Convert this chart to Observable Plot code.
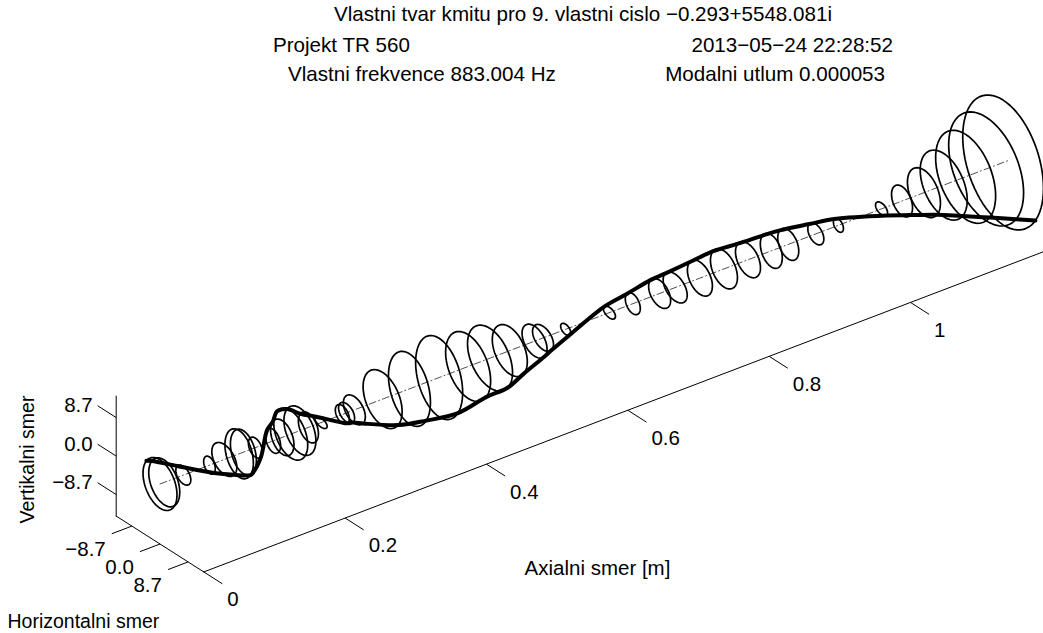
<!DOCTYPE html>
<html><head><meta charset="utf-8">
<script src="https://cdn.jsdelivr.net/npm/d3@7"></script>
<script src="https://cdn.jsdelivr.net/npm/@observablehq/plot@0.6"></script>
<style>
html,body{margin:0;padding:0;background:#fff;overflow:hidden;}
#wrap{position:relative;width:1043px;height:633px;font-family:"Liberation Sans",Arial,sans-serif;}
.t{position:absolute;font-size:20.6px;color:#000;white-space:nowrap;line-height:20px;}
#chart{position:absolute;left:0;top:0;}
</style></head><body>
<div id="wrap">
  <div id="chart"></div>
  <div class="t" style="left:0;width:1166px;text-align:center;top:4px">Vlastni tvar kmitu pro 9. vlastni cislo −0.293+5548.081i</div>
  <div class="t" style="left:273px;top:35px">Projekt TR 560</div>
  <div class="t" style="right:150px;top:35px">2013−05−24 22:28:52</div>
  <div class="t" style="left:288px;top:64px">Vlastni frekvence 883.004 Hz</div>
  <div class="t" style="right:158px;top:64px">Modalni utlum 0.000053</div>
</div>
<script>
// ---- data ----
const nodeAxial = [0.000,0.006,0.033,0.070,0.091,0.112,0.118,0.135,0.160,0.173,0.185,0.198,0.210,0.228,0.258,0.264,0.275,0.315,0.353,0.395,0.436,0.467,0.495,0.530,0.542,0.574,0.636,0.669,0.707,0.729,0.764,0.798,0.832,0.865,0.889,0.928,0.960,1.021,1.050,1.081,1.109,1.140,1.169,1.193];
const horizAmp = [-5.26,-4.80,-2.32,1.80,3.87,4.40,4.02,2.17,-2.32,-3.62,-5.26,-4.95,-3.10,-1.86,2.17,2.48,3.40,6.04,6.50,7.28,6.97,6.97,5.42,3.87,3.25,1.55,-1.86,-2.32,-3.40,-3.72,-3.87,-4.18,-3.87,-3.40,-3.25,-2.48,-1.55,1.86,3.25,5.11,7.28,9.29,11.6,12.5];
const vertAmp = [-5.47,-5.06,-1.99,1.85,3.39,5.27,4.85,2.14,-2.60,-3.78,-5.34,-5.10,-3.20,-1.04,2.00,2.07,3.00,6.04,7.92,8.87,7.21,6.72,5.31,3.39,2.65,1.15,-1.19,-2.24,-3.00,-3.04,-3.65,-4.08,-3.65,-3.62,-3.28,-2.20,-1.41,1.32,3.28,5.12,7.15,9.58,11.7,14.1];
const axialTicks = [0, 0.2, 0.4, 0.6, 0.8, 1];
const axialTickLabels = ["0", "0.2", "0.4", "0.6", "0.8", "1"];
const ampTicks = [-8.7, 0, 8.7];
const ampTickLabels = ["−8.7", "0.0", "8.7"];
const ampLimit = 13.56;
const axialMax = 1.2;
const shapePhase = Math.atan2(0.8, -0.6); // phase at which the deflected shape is drawn

// ---- view (orthographic 3D -> screen) ----
const O = [159.5, 483.5], A = [706.7, -269.5], Hd = [3.23, 2.06], Vd = [0, -4.425];
const P = (a, h, v) => [O[0] + a*A[0] + h*Hd[0] + v*Vd[0], O[1] + a*A[1] + h*Hd[1] + v*Vd[1]];
const pt = (a, h, v, extra = {}) => { const [x, y] = P(a, h, v); return {x, y, ...extra}; };

const orbits = [];
nodeAxial.forEach((a, i) => {
  const n = 72;
  for (let k = 0; k <= n; k++) {
    const t = 2*Math.PI*k/n;
    orbits.push(pt(a, horizAmp[i]*Math.sin(t), vertAmp[i]*Math.cos(t), {id: i}));
  }
});
const shape = nodeAxial.map((a, i) => pt(a, horizAmp[i]*Math.sin(shapePhase), vertAmp[i]*Math.cos(shapePhase)));
const centerLine = [pt(0, 0, 0), pt(axialMax, 0, 0)];

const L = ampLimit;
const axisLines = [
  pt(0, -L, L, {id: "v"}), pt(0, -L, -L, {id: "v"}),
  pt(0, -L, -L, {id: "h"}), pt(0, L, -L, {id: "h"}),
  pt(0, L, -L, {id: "a"}), pt(axialMax, L, -L, {id: "a"})
];
const tickLen = 5.75, tickLenA = 0.0285;
const axialTickData = axialTicks.map((a, i) => {
  const [x1, y1] = P(a, L, -L), [x2, y2] = P(a, L + tickLen, -L);
  return {x1, y1, x2, y2, label: axialTickLabels[i]};
});
const vertTickData = ampTicks.map((v, i) => {
  const [x1, y1] = P(0, -L, v), [x2, y2] = P(0, -L - tickLen, v);
  return {x1, y1, x2, y2, label: ampTickLabels[i]};
});
const horizTickData = ampTicks.map((h, i) => {
  const [x1, y1] = P(0, h, -L), [x2, y2] = P(-tickLenA, h, -L);
  return {x1, y1, x2, y2, label: ampTickLabels[i]};
});

const ff = "Liberation Sans, Arial, sans-serif";
const font = {fontFamily: ff, fontSize: 20.5, fill: "black"};

const chart = Plot.plot({
  width: 1043, height: 633,
  marginTop: 0, marginBottom: 0, marginLeft: 0, marginRight: 0,
  x: {domain: [0, 1043], range: [0, 1043], axis: null},
  y: {domain: [0, 633], range: [0, 633], axis: null},
  style: {background: "white", overflow: "hidden"},
  marks: [
    Plot.line(axisLines, {x: "x", y: "y", z: "id", stroke: "black", strokeWidth: 1}),
    Plot.link(axialTickData, {x1: "x1", y1: "y1", x2: "x2", y2: "y2", stroke: "black", strokeWidth: 1}),
    Plot.link(vertTickData, {x1: "x1", y1: "y1", x2: "x2", y2: "y2", stroke: "black", strokeWidth: 1}),
    Plot.link(horizTickData, {x1: "x1", y1: "y1", x2: "x2", y2: "y2", stroke: "black", strokeWidth: 1}),
    Plot.text(axialTickData, {x: "x2", y: "y2", text: "label", textAnchor: "start", lineAnchor: "middle", dx: 5, dy: 16, ...font}),
    Plot.text(vertTickData, {x: "x2", y: "y2", text: "label", textAnchor: "end", lineAnchor: "middle", dx: -5, dy: 0, ...font}),
    Plot.text(horizTickData, {x: "x2", y: "y2", text: "label", textAnchor: "end", lineAnchor: "middle", dx: -6, dy: 16, ...font}),
    Plot.text(["Axialni smer [m]"], {frameAnchor: "top-left", text: d => d, dx: 597, dy: 568, textAnchor: "middle", lineAnchor: "middle", ...font}),
    Plot.text(["Horizontalni smer"], {frameAnchor: "top-left", text: d => d, dx: 7, dy: 621, textAnchor: "start", lineAnchor: "middle", fontFamily: ff, fontSize: 19.5, fill: "black"}),
    Plot.text(["Vertikalni smer"], {frameAnchor: "top-left", text: d => d, dx: 27, dy: 459, rotate: -90, textAnchor: "middle", lineAnchor: "middle", fontFamily: ff, fontSize: 19.5, fill: "black"}),
    Plot.line(centerLine, {x: "x", y: "y", stroke: "#222", strokeWidth: 0.8, strokeDasharray: "7,3,1,3"}),
    Plot.line(orbits, {x: "x", y: "y", z: "id", stroke: "black", strokeWidth: 1.7}),
    Plot.line(shape, {x: "x", y: "y", curve: "catmull-rom", stroke: "black", strokeWidth: 4, strokeLinejoin: "round", strokeLinecap: "round"})
  ]
});
document.getElementById("chart").appendChild(chart);
</script>
</body></html>
